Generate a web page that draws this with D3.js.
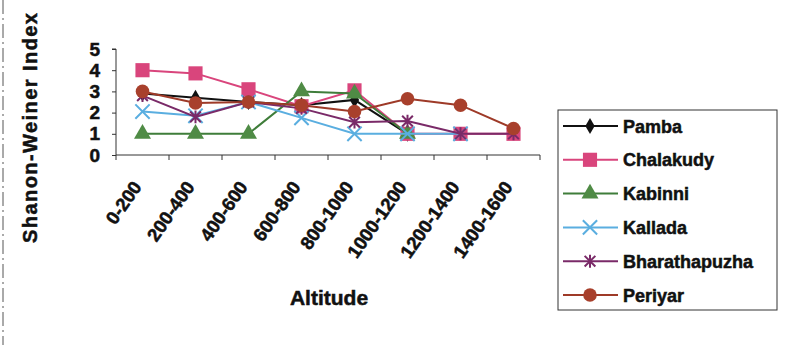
<!DOCTYPE html>
<html>
<head>
<meta charset="utf-8">
<script src="https://cdn.jsdelivr.net/npm/d3@7"></script>
<style>
  body { margin: 0; background: #fff; }
  text { font-family: "Liberation Sans", Arial, sans-serif; font-weight: bold; fill: #111; stroke: #111; stroke-width: 0.5px; }
</style>
</head>
<body>
<div class="canvas"></div>
<script>
// data
const categories = ["0-200", "200-400", "400-600", "600-800", "800-1000", "1000-1200", "1200-1400", "1400-1600"];
const seriesNames = ["Pamba", "Chalakudy", "Kabinni", "Kallada", "Bharathapuzha", "Periyar"];
const pamba = [2.9, 2.7, 2.5, 2.35, 2.6, 1.0, null, null];
const chalakudy = [4.0, 3.85, 3.1, 2.3, 3.05, 1.0, 1.0, 1.0];
const kabinni = [1.0, 1.0, 1.0, 3.0, 2.9, 1.0, null, null];
const kallada = [2.05, 1.85, 2.5, 1.75, 1.0, 1.0, 1.0, null];
const bharathapuzha = [2.8, 1.8, 2.5, 2.2, 1.55, 1.6, 1.0, 1.0];
const periyar = [3.0, 2.45, 2.5, 2.35, 2.05, 2.65, 2.35, 1.25];
const yTicks = [0, 1, 2, 3, 4, 5];

const width = 791, height = 345;

const svg = d3
  .select(".canvas")
  .append("svg")
  .attr("width", width)
  .attr("height", height);

// scan border on the left
svg.append("line")
  .attr("x1", 3).attr("x2", 3).attr("y1", 0).attr("y2", height)
  .attr("stroke", "#555").attr("stroke-width", 1)
  .attr("stroke-dasharray", "14,4,2,4");

// scales
const x = d3.scaleBand().domain(categories).range([116, 540]).padding(0);
const cx = (c) => x(c) + x.bandwidth() / 2;
const y = d3.scaleLinear().domain([0, 5]).range([155, 49]);

// star marker like excel (X plus vertical bar)
const symbolStar = {
  draw(context, size) {
    const r = Math.sqrt(size) / 2;
    context.moveTo(-r, -r); context.lineTo(r, r);
    context.moveTo(-r, r); context.lineTo(r, -r);
    context.moveTo(0, -r * 1.2); context.lineTo(0, r * 1.2);
  }
};

const styles = [
  { color: "#111111", fill: "#111111", type: d3.symbolDiamond, size: 75, stroked: false },
  { color: "#d9457c", fill: "#d9457c", type: d3.symbolSquare, size: 200, stroked: false },
  { color: "#3f7d3a", fill: "#4f8b45", type: d3.symbolTriangle, size: 125, stroked: false },
  { color: "#5aaee0", fill: "none", type: d3.symbolX, size: 135, stroked: true },
  { color: "#7a2a68", fill: "none", type: symbolStar, size: 115, stroked: true },
  { color: "#9e3a28", fill: "#a8402c", type: d3.symbolCircle, size: 145, stroked: false },
];

const allValues = [pamba, chalakudy, kabinni, kallada, bharathapuzha, periyar];
const series = seriesNames.map((name, i) => ({ name, values: allValues[i], ...styles[i] }));

// y axis
const yAxis = d3.axisLeft(y).tickValues(yTicks).tickSize(4).tickPadding(12).tickFormat(d3.format("d"));
const yAxisGroup = svg.append("g").attr("transform", "translate(116,0)").call(yAxis);
yAxisGroup.select(".domain").attr("stroke", "#333").attr("d", `M-4,${y(5)}H0V${y(0)}`);
yAxisGroup.selectAll(".tick line").attr("stroke", "#333");
yAxisGroup.selectAll("text")
  .style("font-size", "19px")
  .style("font-family", "'Liberation Sans', Arial, sans-serif")
  .attr("fill", "#111");

// x axis line with ticks at category boundaries
const xAxisGroup = svg.append("g").attr("class", "x-axis");
xAxisGroup.append("line")
  .attr("x1", x.range()[0]).attr("x2", x.range()[1])
  .attr("y1", y(0)).attr("y2", y(0))
  .attr("stroke", "#333");
const bounds = categories.map((c) => x(c)).concat([x.range()[1]]);
xAxisGroup.selectAll("line.tk")
  .data(bounds)
  .enter()
  .append("line")
  .attr("class", "tk")
  .attr("x1", (d) => d).attr("x2", (d) => d)
  .attr("y1", y(0)).attr("y2", y(0) + 5)
  .attr("stroke", "#333");
xAxisGroup.selectAll("text")
  .data(categories)
  .enter()
  .append("text")
  .attr("transform", (d) => `translate(${cx(d)}, 187) rotate(-55)`)
  .attr("text-anchor", "end")
  .style("font-size", "18.5px")
  .text((d) => d);

// axis titles
svg.append("text")
  .attr("transform", "translate(37,128) rotate(-90)")
  .attr("text-anchor", "middle")
  .attr("textLength", 230)
  .attr("lengthAdjust", "spacing")
  .style("font-size", "20px")
  .text("Shanon-Weiner Index");

svg.append("text")
  .attr("x", 329).attr("y", 305)
  .attr("text-anchor", "middle")
  .style("font-size", "21px")
  .text("Altitude");

// lines + markers
const line = d3.line()
  .defined((d) => d != null)
  .x((d, i) => cx(categories[i]))
  .y((d) => y(d));

const plot = svg.append("g");
series.forEach((s) => {
  const g = plot.append("g");
  g.append("path")
    .attr("d", line(s.values))
    .attr("fill", "none")
    .attr("stroke", s.color)
    .attr("stroke-width", 2);
  g.selectAll("path.m")
    .data(s.values.map((v, i) => ({ v, c: categories[i] })).filter((d) => d.v != null))
    .enter()
    .append("path")
    .attr("class", "m")
    .attr("transform", (d) => `translate(${cx(d.c)}, ${y(d.v)})`)
    .attr("d", d3.symbol().type(s.type).size(s.size))
    .attr("fill", s.fill)
    .attr("stroke", s.stroked ? s.color : "none")
    .attr("stroke-width", 2);
});

// legend
const legend = svg.append("g");
legend.append("rect")
  .attr("x", 558).attr("y", 110)
  .attr("width", 219).attr("height", 200)
  .attr("fill", "#fff")
  .attr("stroke", "#333");
const items = legend.selectAll("g.item")
  .data(series)
  .enter()
  .append("g")
  .attr("class", "item")
  .attr("transform", (d, i) => `translate(0, ${126 + i * 33.8})`);
items.append("line")
  .attr("x1", 563).attr("x2", 618)
  .attr("stroke", (d) => d.color)
  .attr("stroke-width", 2);
items.append("path")
  .attr("transform", "translate(590,0)")
  .attr("d", (d) => d3.symbol().type(d.type).size(d.size)())
  .attr("fill", (d) => d.fill)
  .attr("stroke", (d) => (d.stroked ? d.color : "none"))
  .attr("stroke-width", 2);
items.append("text")
  .attr("x", 623).attr("y", 6.5)
  .style("font-size", "18px")
  .text((d) => d.name);
</script>
</body>
</html>
